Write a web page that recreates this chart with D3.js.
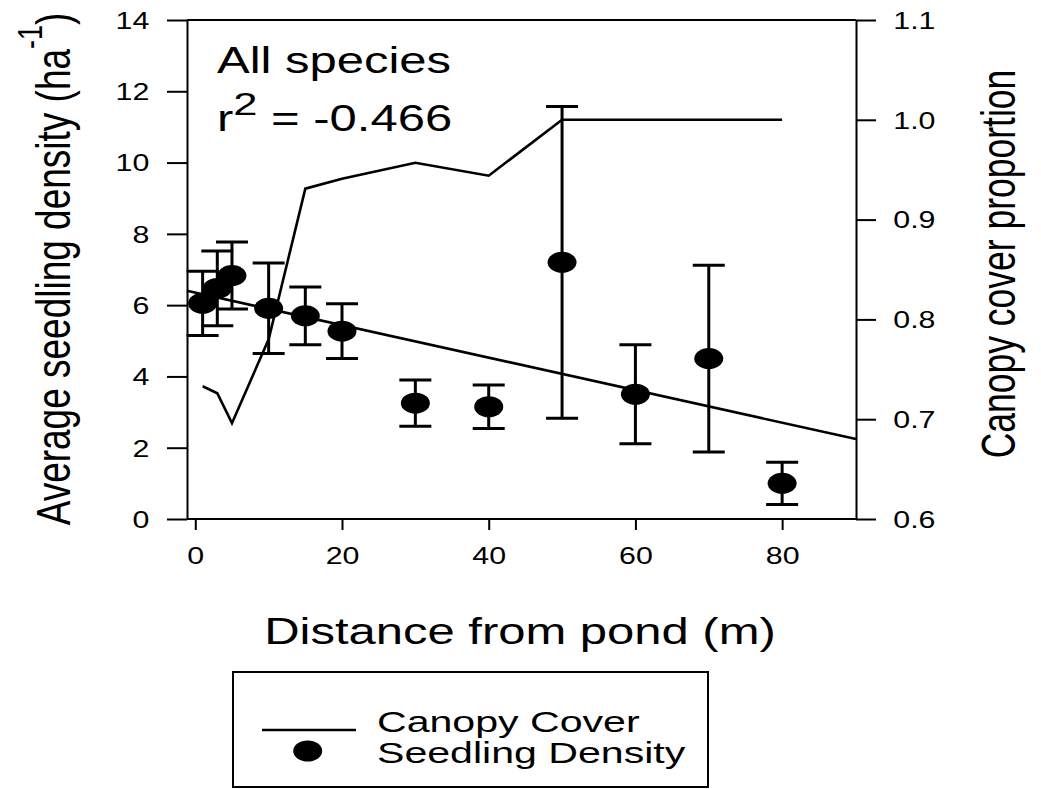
<!DOCTYPE html>
<html>
<head>
<meta charset="utf-8">
<script src="https://cdn.jsdelivr.net/npm/d3@7/dist/d3.min.js"></script>
<style>
  html, body { margin: 0; padding: 0; background: #fff; }
  svg { display: block; }
  text { font-family: "Liberation Sans", Arial, sans-serif; fill: #000; }
</style>
</head>
<body>
<svg id="chart" width="1041" height="789"></svg>
<script>
// Distance from pond (m) for each sampling station
const distances = [1, 3, 5, 10, 15, 20, 30, 40, 50, 60, 70, 80];
// Mean seedling density (ha^-1) and its error
const seedlingDensity = [6.05, 6.47, 6.83, 5.91, 5.70, 5.27, 3.25, 3.15, 7.20, 3.50, 4.50, 1.00];
const seedlingError   = [0.90, 1.05, 0.94, 1.27, 0.81, 0.77, 0.65, 0.61, 4.37, 1.39, 2.62, 0.59];
// Canopy cover proportion at each distance
const canopyCover = [0.733, 0.726, 0.696, 0.780, 0.931, 0.941, 0.957, 0.944, 1.0, 1.0, 1.0, 1.0];
// Linear fit of seedling density against distance
const fitIntercept = 6.35;
const fitSlope = -0.0456;
// Axis ticks
const densityTicks = [0, 2, 4, 6, 8, 10, 12, 14];
const canopyTicks = [0.6, 0.7, 0.8, 0.9, 1.0, 1.1];
const distanceTicks = [0, 20, 40, 60, 80];

const svg = d3.select("#chart");

const plotLeft = 187, plotRight = 856, plotTop = 20, plotBottom = 519;
const SX = 1.36;      // horizontal stretch of large lettering
const SX_TICK = 1.32; // horizontal stretch of tick lettering

const x = d3.scaleLinear().domain([-1.13, 90.07]).range([plotLeft, plotRight]);
const yL = d3.scaleLinear().domain([0, 14]).range([plotBottom, plotTop]);
const yR = d3.scaleLinear().domain([0.6, 1.1]).range([plotBottom, plotTop]);

// Frame lines across the top and bottom of the plot
svg.append("line").attr("x1", plotLeft).attr("x2", plotRight).attr("y1", plotTop).attr("y2", plotTop)
  .attr("stroke", "#000").attr("stroke-width", 2);
svg.append("line").attr("x1", plotLeft).attr("x2", plotRight).attr("y1", plotBottom).attr("y2", plotBottom)
  .attr("stroke", "#000").attr("stroke-width", 2);

function styleAxis(g) {
  g.selectAll("path.domain").attr("stroke", "#000").attr("stroke-width", 2);
  g.selectAll(".tick line").attr("stroke", "#000").attr("stroke-width", 2);
  g.selectAll(".tick text")
    .style("font-family", '"Liberation Sans", Arial, sans-serif')
    .style("font-size", "23px")
    .attr("fill", "#1a1a1a");
}

// Left axis: seedling density
const gL = svg.append("g").attr("transform", `translate(${plotLeft},0)`)
  .call(d3.axisLeft(yL).tickValues(densityTicks).tickSize(20).tickSizeOuter(0).tickPadding(17.7).tickFormat(d3.format("d")));
styleAxis(gL);
gL.selectAll(".tick text").each(function () {
  const t = d3.select(this);
  const tx = +t.attr("x");
  t.attr("x", 0).attr("transform", `translate(${tx},0) scale(${SX_TICK},1)`).attr("dy", "0.36em");
});

// Right axis: canopy cover
const gR = svg.append("g").attr("transform", `translate(${plotRight},0)`)
  .call(d3.axisRight(yR).tickValues(canopyTicks).tickSize(20).tickSizeOuter(0).tickPadding(17.3).tickFormat(d3.format(".1f")));
styleAxis(gR);
gR.selectAll(".tick text").each(function () {
  const t = d3.select(this);
  const tx = +t.attr("x");
  t.attr("x", 0).attr("transform", `translate(${tx},0) scale(${SX_TICK},1)`).attr("dy", "0.36em");
});

// Bottom axis: distance
const gB = svg.append("g").attr("transform", `translate(0,${plotBottom})`)
  .call(d3.axisBottom(x).tickValues(distanceTicks).tickSize(11).tickSizeOuter(0).tickPadding(17.7).tickFormat(d3.format("d")));
styleAxis(gB);
gB.select("path.domain").remove();
gB.selectAll(".tick text").each(function () {
  const t = d3.select(this);
  t.attr("y", 0).attr("dy", 0).attr("transform", `translate(0,45) scale(${SX_TICK},1)`);
});

// Canopy cover line (right axis)
const canopyData = distances.map((d, i) => ({ x: d, v: canopyCover[i] }));
svg.append("path")
  .datum(canopyData)
  .attr("fill", "none").attr("stroke", "#000").attr("stroke-width", 2.6)
  .attr("stroke-linejoin", "miter")
  .attr("d", d3.line().x(d => x(d.x)).y(d => yR(d.v)));

// Fitted regression line (left axis)
const [x0, x1] = x.domain();
svg.append("path")
  .datum([x0, x1].map(d => ({ x: d, v: fitIntercept + fitSlope * d })))
  .attr("fill", "none").attr("stroke", "#000").attr("stroke-width", 2.6)
  .attr("d", d3.line().x(d => x(d.x)).y(d => yL(d.v)));

// Error bars and seedling density markers
const seedData = distances.map((d, i) => ({ x: d, m: seedlingDensity[i], e: seedlingError[i] }));
const capHalf = 16;
const eb = svg.append("g").attr("stroke", "#000").attr("stroke-width", 3);
seedData.forEach(d => {
  const cx = x(d.x), yt = yL(d.m + d.e), yb = yL(d.m - d.e);
  eb.append("line").attr("x1", cx).attr("x2", cx).attr("y1", yt).attr("y2", yb);
  eb.append("line").attr("x1", cx - capHalf).attr("x2", cx + capHalf).attr("y1", yt).attr("y2", yt);
  eb.append("line").attr("x1", cx - capHalf).attr("x2", cx + capHalf).attr("y1", yb).attr("y2", yb);
});
svg.append("g").selectAll("ellipse").data(seedData).join("ellipse")
  .attr("cx", d => x(d.x)).attr("cy", d => yL(d.m))
  .attr("rx", 14.5).attr("ry", 10.5).attr("fill", "#000");

// Helper for horizontally stretched text
function stretchedText(px, py, size, sx, anchor) {
  return svg.append("text")
    .attr("transform", `translate(${px},${py}) scale(${sx},1)`)
    .attr("text-anchor", anchor || "start")
    .style("font-size", size + "px");
}

// Annotation in the plot
stretchedText(217, 72.7, 36, SX).text("All species");
const r2 = stretchedText(217, 131, 36, SX);
r2.append("tspan").text("r");
r2.append("tspan").attr("dy", -16).style("font-size", "32px").text("2");
r2.append("tspan").attr("dy", 16).text(" = -0.466");

// X axis title
stretchedText(520, 644, 36, SX, "middle").text("Distance from pond (m)");

// Left axis title (rotated)
const lt = svg.append("text")
  .attr("transform", `translate(69.6,269) rotate(-90) scale(1,1.31)`)
  .attr("text-anchor", "middle")
  .style("font-size", "37px");
lt.append("tspan").text("Average seedling density (ha");
lt.append("tspan").attr("dy", -21).style("font-size", "27px").text("-1");
lt.append("tspan").attr("dy", 21).text(")");

// Right axis title (rotated)
svg.append("text")
  .attr("transform", `translate(1015,264) rotate(-90) scale(1,${SX})`)
  .attr("text-anchor", "middle")
  .style("font-size", "35.5px")
  .text("Canopy cover proportion");

// Legend
const lg = svg.append("g");
lg.append("rect").attr("x", 233).attr("y", 672).attr("width", 475).attr("height", 115)
  .attr("fill", "none").attr("stroke", "#000").attr("stroke-width", 2);
lg.append("line").attr("x1", 262).attr("x2", 356).attr("y1", 730).attr("y2", 730)
  .attr("stroke", "#000").attr("stroke-width", 2.6);
lg.append("ellipse").attr("cx", 307.7).attr("cy", 751).attr("rx", 14.5).attr("ry", 10.5).attr("fill", "#000");
stretchedText(377, 731.7, 30, 1.37).text("Canopy Cover");
stretchedText(377, 763.3, 30, 1.37).text("Seedling Density");
</script>
</body>
</html>
